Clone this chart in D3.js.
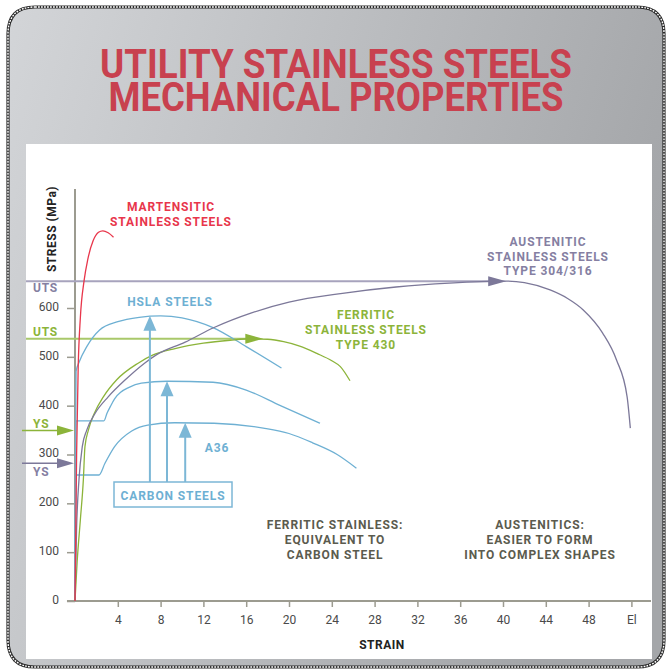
<!DOCTYPE html>
<html><head><meta charset="utf-8">
<script src="https://cdn.jsdelivr.net/npm/d3@7"></script>
<style>body{margin:0;background:#fff}svg{display:block}</style>
</head><body><svg id="c" width="671" height="672"></svg>
<script>
// ---- data ----
const xTicks = [4, 8, 12, 16, 20, 24, 28, 32, 36, 40, 44, 48, 52];
const xTickLabels = ["4", "8", "12", "16", "20", "24", "28", "32", "36", "40", "44", "48", "El"];
const yTicks = [0, 100, 200, 300, 400, 500, 600];

const martensitic = [[0,0],[0.15,300],[0.3,480],[0.5,580],[0.85,656],[1.2,700],[1.7,738],[2.2,755],[2.6,758],[3.1,754],[3.6,745]];
const hsla = [[0,0],[0.05,300],[0.1,470],[0.4,490],[1.1,521],[2.3,555],[4,572],[6,581],[8,584],[10,580],[12.9,560],[16,521],[19.3,477]];
const carbonMid = [[0,0],[0.1,369],[2.7,369],[3.0,385],[3.3,398],[3.7,414],[4.3,428],[5,437],[6.2,446],[8.6,450],[12.9,448],[16,432],[19.2,400],[22.9,364]];
const a36 = [[0,0],[0.1,258],[2.24,258],[2.8,282],[3.7,316],[5.3,348],[6.8,360],[9.3,365],[13,364],[17.6,354],[20,343],[22.2,324],[24.5,300],[26.3,272]];
const ferritic = [[0,0],[0.2,80],[0.5,166],[0.78,248],[0.93,316],[1.25,350],[1.8,384],[2.65,418],[3.9,453],[5.9,487],[7.3,504],[9.35,517],[12,528],[14.5,534],[16.5,537],[18,536],[19.5,531],[21,522],[22.6,507],[24,492],[24.8,480],[25.7,451]];
const austenitic = [[0,0],[0.15,150],[0.37,248],[0.68,316],[1.1,350],[1.87,384],[3.1,418],[4.7,453],[6.5,487],[7.6,504],[10.3,530],[13,560],[16.5,590],[20,612],[25,630],[30,643],[35,651],[40.3,655],[42,652],[44.4,637],[46,620],[47.5,596],[49.3,549],[50.6,494],[51.6,418],[51.9,354]];

const utsLevels = [655, 537];          // austenitic, ferritic
const utsArrowStrain = [40.3, 17.6];
const ysLevels = [349, 282];           // ferritic, austenitic
const carbonArrowStrain = [7.0, 8.6, 10.3];
const carbonArrowTip = [584, 450, 365];

// ---- colours ----
const C = {
  title: "#c8414f", red: "#e8364b", blue: "#6eb0d3", blueArrow: "#7cb7d6",
  green: "#8cb43a", greenLine: "#a9c86a", purple: "#7c7899", purpleLine: "#a7a3bd",
  purpleText: "#857fa2", dark: "#5b5b4e", axis: "#9c9b90", tick: "#4a4a4a"
};
const FONT = "Roboto, 'DejaVu Sans', sans-serif";

const svg = d3.select("#c");
const defs = svg.append("defs");
const g1 = defs.append("linearGradient").attr("id", "bg").attr("x1", "0").attr("y1", "0").attr("x2", "1").attr("y2", "0.3");
g1.append("stop").attr("offset", "0").attr("stop-color", "#d3d5d8");
g1.append("stop").attr("offset", "1").attr("stop-color", "#a4a6a9");

// frame
const frame = "M35,7 H637 Q664,7 664,34 V640 Q664,667 637,667 H35 Q8,667 8,640 V34 Q8,7 35,7 Z";
svg.append("path").attr("d", frame).attr("fill", "url(#bg)");
svg.append("path").attr("d", frame).attr("fill", "none").attr("stroke", "#2a2a2a").attr("stroke-width", 3.2);
svg.append("path").attr("d", frame).attr("fill", "none").attr("stroke", "#fff").attr("stroke-width", 1.4).attr("stroke-dasharray", "1.8 1.2");

// title (one text element, two lines)
const titleLines = ["UTILITY STAINLESS STEELS", "MECHANICAL PROPERTIES"];
const titleGeom = [{y: 78, w: 472}, {y: 111, w: 455}];
const title = svg.append("text").attr("text-anchor", "middle").attr("font-family", FONT)
  .attr("font-weight", 700).attr("font-size", 40).attr("fill", C.title);
titleLines.forEach((t, i) => title.append("tspan").text(t).attr("x", 336).attr("y", titleGeom[i].y)
  .attr("textLength", titleGeom[i].w).attr("lengthAdjust", "spacingAndGlyphs"));

// white plot panel
svg.append("rect").attr("x", 26).attr("y", 144).attr("width", 626).attr("height", 515).attr("fill", "#fff");

// scales
const x = d3.scaleLinear().domain([0, 52]).range([75, 631.4]);
const y = d3.scaleLinear().domain([0, 600]).range([601, 308]);

// axes
const xAxis = svg.append("g").attr("transform", `translate(0,${y(0)})`)
  .call(d3.axisBottom(x).tickValues(xTicks).tickSize(6).tickPadding(8)
    .tickFormat((d, i) => xTickLabels[i]).tickSizeOuter(0));
xAxis.select(".domain").remove();
const yAxis = svg.append("g").attr("transform", `translate(${x(0)},0)`)
  .call(d3.axisLeft(y).tickValues(yTicks).tickSize(8).tickPadding(8).tickSizeOuter(0));
yAxis.select(".domain").remove();
[xAxis, yAxis].forEach(a => {
  a.selectAll("line").attr("stroke", C.axis).attr("stroke-width", 1.5);
  a.selectAll("text").attr("font-family", FONT).attr("font-size", 12).attr("fill", C.tick);
});
yAxis.selectAll("text").attr("dy", "0.2em");
svg.append("line").attr("x1", x(-0.75)).attr("x2", 651).attr("y1", y(0)).attr("y2", y(0))
  .attr("stroke", C.axis).attr("stroke-width", 2);
svg.append("line").attr("x1", x(0)).attr("x2", x(0)).attr("y1", y(0)).attr("y2", 189)
  .attr("stroke", C.axis).attr("stroke-width", 2);

// axis titles
svg.append("text").text("STRESS (MPa)").attr("transform", "translate(56,229) rotate(-90)")
  .attr("text-anchor", "middle").attr("font-family", FONT).attr("font-weight", 700)
  .attr("font-size", 12).attr("fill", "#222").attr("letter-spacing", 0.5);
svg.append("text").text("STRAIN").attr("x", 382).attr("y", 649)
  .attr("text-anchor", "middle").attr("font-family", FONT).attr("font-weight", 700)
  .attr("font-size", 12).attr("fill", "#222").attr("letter-spacing", 0.5);

// reference lines (UTS)
const utsColors = [C.purpleLine, C.greenLine];
const utsHead = [C.purple, C.green];
utsLevels.forEach((v, i) => {
  const tx = x(utsArrowStrain[i]), ty = y(v);
  svg.append("line").attr("x1", 26).attr("x2", tx - 10).attr("y1", ty).attr("y2", ty)
    .attr("stroke", utsColors[i]).attr("stroke-width", 2);
});

// curves
const line = d3.line().x(d => x(d[0])).y(d => y(d[1])).curve(d3.curveMonotoneX);
const series = [
  {d: hsla, c: C.blue}, {d: carbonMid, c: C.blue}, {d: a36, c: C.blue},
  {d: ferritic, c: C.green}, {d: austenitic, c: C.purple}, {d: martensitic, c: C.red}
];
series.forEach(s => svg.append("path").attr("d", line(s.d)).attr("fill", "none")
  .attr("stroke", s.c).attr("stroke-width", 1.3));

// UTS arrowheads
utsLevels.forEach((v, i) => {
  const tx = x(utsArrowStrain[i]), ty = y(v);
  svg.append("path").attr("d", `M${tx},${ty} L${tx - 18},${ty - 5} L${tx - 18},${ty + 5} Z`)
    .attr("fill", utsHead[i]);
});

// YS arrows
const ysCol = [C.green, C.purple];
ysLevels.forEach((v, i) => {
  const ty = y(v), tx = x(0) - 1;
  svg.append("line").attr("x1", 22).attr("x2", tx - 12).attr("y1", ty).attr("y2", ty)
    .attr("stroke", ysCol[i]).attr("stroke-width", 1.6);
  svg.append("path").attr("d", `M${tx},${ty} L${tx - 17},${ty - 5} L${tx - 17},${ty + 5} Z`)
    .attr("fill", ysCol[i]);
});

// left labels UTS / YS
const sideLabels = [
  {t: "UTS", v: utsLevels[0], dy: 11, c: C.purpleText},
  {t: "UTS", v: utsLevels[1], dy: -3, c: C.green},
  {t: "YS", v: ysLevels[0], dy: -3, c: C.green},
  {t: "YS", v: ysLevels[1], dy: 13, c: C.purpleText}
];
sideLabels.forEach(l => svg.append("text").text(l.t).attr("x", 33).attr("y", y(l.v) + l.dy)
  .attr("font-family", FONT).attr("font-weight", 700).attr("font-size", 12)
  .attr("fill", l.c).attr("letter-spacing", 0.8));

// carbon steels box & arrows
const boxTop = 482, boxBottom = 507;
carbonArrowStrain.forEach((s, i) => {
  const ax = x(s), tip = y(carbonArrowTip[i]);
  svg.append("line").attr("x1", ax).attr("x2", ax).attr("y1", boxTop).attr("y2", tip + 12)
    .attr("stroke", C.blueArrow).attr("stroke-width", 2);
  svg.append("path").attr("d", `M${ax},${tip} L${ax - 6.5},${tip + 15} L${ax + 6.5},${tip + 15} Z`)
    .attr("fill", C.blueArrow);
});
svg.append("rect").attr("x", 114).attr("y", boxTop).attr("width", 118).attr("height", boxBottom - boxTop)
  .attr("fill", "#fff").attr("stroke", C.blueArrow).attr("stroke-width", 1.5);

// text annotations
function block(lines, cx, y0, color, step) {
  lines.forEach((t, i) => svg.append("text").text(t).attr("x", cx).attr("y", y0 + i * step)
    .attr("text-anchor", "middle").attr("font-family", FONT).attr("font-weight", 700)
    .attr("font-size", 12).attr("fill", color).attr("letter-spacing", 0.9));
}
block(["CARBON STEELS"], 173, 500, C.blue, 15);
block(["MARTENSITIC", "STAINLESS STEELS"], 171, 211, C.red, 15);
block(["HSLA STEELS"], 170, 306, C.blue, 15);
block(["A36"], 217, 452, C.blue, 15);
block(["FERRITIC", "STAINLESS STEELS", "TYPE 430"], 366, 319, C.green, 15);
block(["AUSTENITIC", "STAINLESS STEELS", "TYPE 304/316"], 548, 246, C.purpleText, 14.5);
block(["FERRITIC STAINLESS:", "EQUIVALENT TO", "CARBON STEEL"], 335, 529, C.dark, 15);
block(["AUSTENITICS:", "EASIER TO FORM", "INTO COMPLEX SHAPES"], 540, 529, C.dark, 15);
</script>
</body></html>
